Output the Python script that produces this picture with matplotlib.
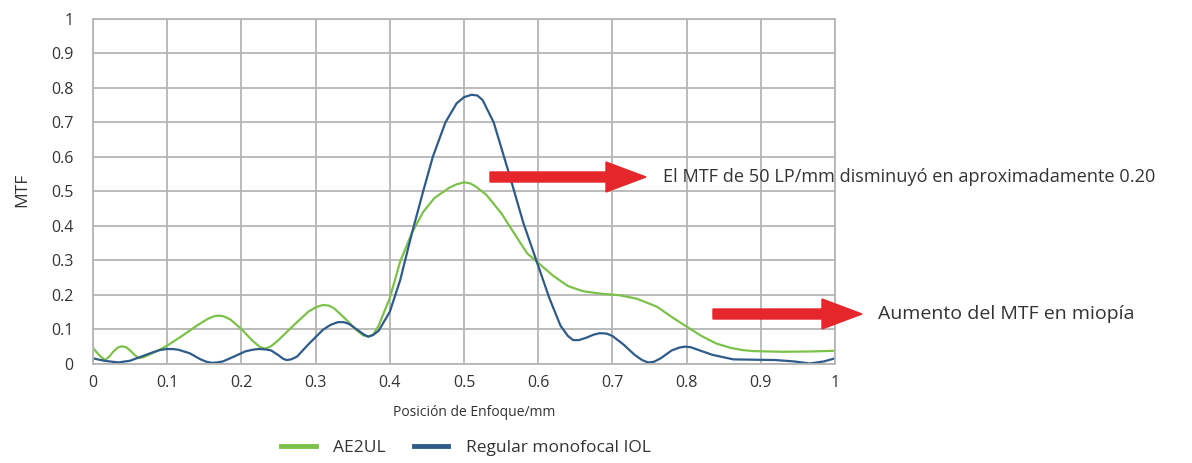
import matplotlib.pyplot as plt
from matplotlib.patches import FancyArrow
from matplotlib.transforms import IdentityTransform
from matplotlib.lines import Line2D

plt.rcParams["font.family"] = ["Open Sans", "DejaVu Sans"]

# AE2UL (green) curve
ae2ul_x = [0.0, 0.008, 0.016, 0.022, 0.028, 0.034, 0.039, 0.045, 0.05, 0.056,
           0.061, 0.068, 0.075, 0.09, 0.1, 0.12, 0.14, 0.155, 0.163, 0.169,
           0.176, 0.185, 0.2, 0.215, 0.225, 0.232, 0.24, 0.25, 0.27, 0.29,
           0.30, 0.31, 0.318, 0.325, 0.34, 0.355, 0.364, 0.371, 0.378, 0.385,
           0.4, 0.414, 0.43, 0.445, 0.46, 0.48, 0.49, 0.50, 0.508, 0.515,
           0.53, 0.55, 0.57, 0.585, 0.598, 0.62, 0.64, 0.66, 0.683, 0.71,
           0.733, 0.76, 0.78, 0.80, 0.82, 0.84, 0.86, 0.875, 0.89, 0.93,
           0.97, 1.0]
ae2ul_y = [0.045, 0.025, 0.010, 0.020, 0.036, 0.047, 0.050, 0.047, 0.038, 0.025,
           0.016, 0.018, 0.025, 0.040, 0.052, 0.080, 0.110, 0.130, 0.137, 0.139,
           0.137, 0.128, 0.100, 0.066, 0.048, 0.043, 0.050, 0.068, 0.110, 0.150,
           0.163, 0.170, 0.168, 0.160, 0.130, 0.097, 0.082, 0.078, 0.085, 0.110,
           0.190, 0.296, 0.380, 0.440, 0.480, 0.510, 0.520, 0.526, 0.523, 0.515,
           0.490, 0.437, 0.370, 0.320, 0.296, 0.255, 0.225, 0.210, 0.203, 0.198,
           0.188, 0.165, 0.135, 0.107, 0.080, 0.058, 0.045, 0.039, 0.036, 0.034,
           0.035, 0.037]

# Regular monofocal IOL (blue) curve
mono_x = [0.0, 0.015, 0.034, 0.05, 0.065, 0.08, 0.09, 0.099, 0.107, 0.115,
          0.13, 0.145, 0.153, 0.16, 0.167, 0.175, 0.19, 0.205, 0.215, 0.223,
          0.232, 0.24, 0.25, 0.256, 0.261, 0.267, 0.275, 0.29, 0.31, 0.32,
          0.33, 0.338, 0.345, 0.36, 0.366, 0.371, 0.377, 0.385, 0.4, 0.414,
          0.43, 0.445, 0.458, 0.475, 0.49, 0.50, 0.51, 0.518, 0.525, 0.54,
          0.562, 0.58, 0.598, 0.615, 0.63, 0.64, 0.647, 0.655, 0.665, 0.675,
          0.683, 0.692, 0.70, 0.715, 0.73, 0.74, 0.748, 0.756, 0.765, 0.78,
          0.79, 0.798, 0.806, 0.815, 0.835, 0.863, 0.92, 0.945, 0.966, 0.985,
          1.0]
mono_y = [0.015, 0.008, 0.003, 0.008, 0.020, 0.032, 0.039, 0.042, 0.042, 0.040,
          0.030, 0.012, 0.005, 0.002, 0.003, 0.006, 0.020, 0.035, 0.040, 0.042,
          0.041, 0.038, 0.024, 0.014, 0.010, 0.012, 0.020, 0.055, 0.098, 0.112,
          0.120, 0.120, 0.115, 0.092, 0.083, 0.078, 0.082, 0.095, 0.150, 0.242,
          0.380, 0.500, 0.600, 0.700, 0.755, 0.773, 0.780, 0.778, 0.765, 0.700,
          0.542, 0.408, 0.296, 0.190, 0.110, 0.080, 0.068, 0.068, 0.075, 0.084,
          0.088, 0.087, 0.080, 0.055, 0.025, 0.010, 0.003, 0.005, 0.015, 0.038,
          0.046, 0.049, 0.047, 0.040, 0.025, 0.012, 0.010, 0.006, 0.000, 0.006,
          0.015]

ticks = [0, 0.1, 0.2, 0.3, 0.4, 0.5, 0.6, 0.7, 0.8, 0.9, 1]
tick_labels = ["0", "0.1", "0.2", "0.3", "0.4", "0.5", "0.6", "0.7", "0.8", "0.9", "1"]

green = "#7cc24a"
blue = "#2f5b8a"
red = "#e5262a"
text_col = "#333333"

W, H = 1192, 463
fig = plt.figure(figsize=(W / 100, H / 100), dpi=100)
fig.patch.set_facecolor("white")
ax = fig.add_axes([93 / W, 1 - 363.5 / H, 742 / W, 344.5 / H])

ax.plot(ae2ul_x, ae2ul_y, color=green, lw=1.6, solid_joinstyle="round")
ax.plot(mono_x, mono_y, color=blue, lw=1.6, solid_joinstyle="round")

ax.set_xlim(0, 1)
ax.set_ylim(0, 1)
ax.set_xticks(ticks)
ax.set_xticklabels(tick_labels)
ax.set_yticks(ticks)
ax.set_yticklabels(tick_labels)
ax.tick_params(length=0, labelsize=11.5, colors=text_col, pad=8)
ax.tick_params(axis="y", pad=14)
ax.grid(True, color="#b5b5b5", lw=1.3)
ax.set_axisbelow(True)
for s in ax.spines.values():
    s.set_color("#b5b5b5")
    s.set_linewidth(1.3)

fig.text(22 / W, 1 - 190 / H, "MTF", rotation=90, ha="center", va="center",
         fontsize=12.5, color=text_col)
fig.text(474 / W, 1 - 412 / H, "Posición de Enfoque/mm", ha="center", va="center",
         fontsize=10, color=text_col)

# red arrows with notes
def arrow(x0, x1, y):
    fig.add_artist(FancyArrow(x0, H - y, x1 - x0, 0, width=10, head_width=30,
                              head_length=40, length_includes_head=True,
                              color=red, transform=IdentityTransform()))

arrow(490, 646, 177)
fig.text(663 / W, 1 - 177 / H, "El MTF de 50 LP/mm disminuyó en aproximadamente 0.20",
         ha="left", va="center", fontsize=13.1, color=text_col, weight="medium")
arrow(713, 862, 314)
fig.text(878 / W, 1 - 314 / H, "Aumento del MTF en miopía",
         ha="left", va="center", fontsize=14, color=text_col, weight="medium")

handles = [Line2D([], [], color=green, lw=3.5), Line2D([], [], color=blue, lw=3.5)]
fig.legend(handles, ["AE2UL", "Regular monofocal IOL"], loc="center",
           bbox_to_anchor=(466 / W, 1 - 448 / H), ncol=2, frameon=False,
           fontsize=12.5, handlelength=2.0, handletextpad=1.0, columnspacing=1.6,
           labelcolor=text_col)

fig.savefig("out.png", dpi=100)
